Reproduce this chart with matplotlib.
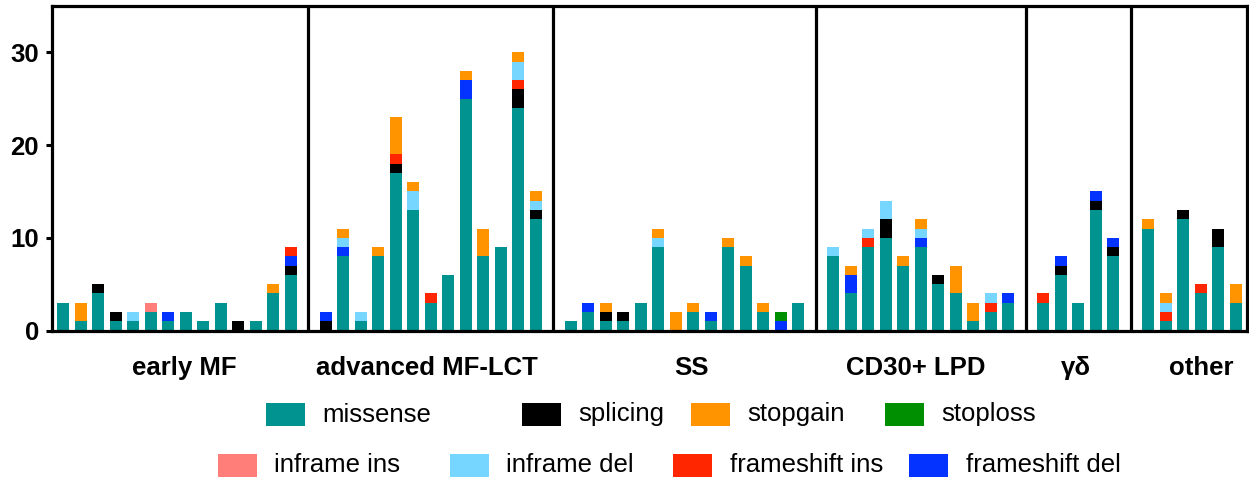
import numpy as np
import matplotlib
matplotlib.use("Agg")
import matplotlib.pyplot as plt
from matplotlib.patches import Rectangle
from matplotlib.transforms import blended_transform_factory

plt.rcParams['font.family'] = ['Liberation Sans', 'DejaVu Sans']

# ==== Data: mutation counts per sample, grouped by subtype ====
groups = ["early MF", "advanced MF-LCT", "SS", "CD30+ LPD", "γδ", "other"]
group_sizes = [14, 13, 14, 11, 5, 6]

missense = [3, 1, 4, 1, 1, 2, 1, 2, 1, 3, 0, 1, 4, 6,
            0, 8, 1, 8, 17, 13, 3, 6, 25, 8, 9, 24, 12,
            1, 2, 1, 1, 3, 9, 0, 2, 1, 9, 7, 2, 0, 3,
            8, 4, 9, 10, 7, 9, 5, 4, 1, 2, 3,
            3, 6, 3, 13, 8,
            11, 1, 12, 4, 9, 3]
splicing = [0, 0, 1, 1, 0, 0, 0, 0, 0, 0, 1, 0, 0, 1,
            1, 0, 0, 0, 1, 0, 0, 0, 0, 0, 0, 2, 1,
            0, 0, 1, 1, 0, 0, 0, 0, 0, 0, 0, 0, 0, 0,
            0, 0, 0, 2, 0, 0, 1, 0, 0, 0, 0,
            0, 1, 0, 1, 1,
            0, 0, 1, 0, 2, 0]
frameshift_del = [0, 0, 0, 0, 0, 0, 1, 0, 0, 0, 0, 0, 0, 1,
                  1, 1, 0, 0, 0, 0, 0, 0, 2, 0, 0, 0, 0,
                  0, 1, 0, 0, 0, 0, 0, 0, 1, 0, 0, 0, 1, 0,
                  0, 2, 0, 0, 0, 1, 0, 0, 0, 0, 1,
                  0, 1, 0, 1, 1,
                  0, 0, 0, 0, 0, 0]
frameshift_ins = [0, 0, 0, 0, 0, 0, 0, 0, 0, 0, 0, 0, 0, 1,
                  0, 0, 0, 0, 1, 0, 1, 0, 0, 0, 0, 1, 0,
                  0, 0, 0, 0, 0, 0, 0, 0, 0, 0, 0, 0, 0, 0,
                  0, 0, 1, 0, 0, 0, 0, 0, 0, 1, 0,
                  1, 0, 0, 0, 0,
                  0, 1, 0, 1, 0, 0]
inframe_ins = [0, 0, 0, 0, 0, 1, 0, 0, 0, 0, 0, 0, 0, 0,
               0, 0, 0, 0, 0, 0, 0, 0, 0, 0, 0, 0, 0,
               0, 0, 0, 0, 0, 0, 0, 0, 0, 0, 0, 0, 0, 0,
               0, 0, 0, 0, 0, 0, 0, 0, 0, 0, 0,
               0, 0, 0, 0, 0,
               0, 0, 0, 0, 0, 0]
inframe_del = [0, 0, 0, 0, 1, 0, 0, 0, 0, 0, 0, 0, 0, 0,
               0, 1, 1, 0, 0, 2, 0, 0, 0, 0, 0, 2, 1,
               0, 0, 0, 0, 0, 1, 0, 0, 0, 0, 0, 0, 0, 0,
               1, 0, 1, 2, 0, 1, 0, 0, 0, 1, 0,
               0, 0, 0, 0, 0,
               0, 1, 0, 0, 0, 0]
stopgain = [0, 2, 0, 0, 0, 0, 0, 0, 0, 0, 0, 0, 1, 0,
            0, 1, 0, 1, 4, 1, 0, 0, 1, 3, 0, 1, 1,
            0, 0, 1, 0, 0, 1, 2, 1, 0, 1, 1, 1, 0, 0,
            0, 1, 0, 0, 1, 1, 0, 3, 2, 0, 0,
            0, 0, 0, 0, 0,
            1, 1, 0, 0, 0, 2]
stoploss = [0, 0, 0, 0, 0, 0, 0, 0, 0, 0, 0, 0, 0, 0,
            0, 0, 0, 0, 0, 0, 0, 0, 0, 0, 0, 0, 0,
            0, 0, 0, 0, 0, 0, 0, 0, 0, 0, 0, 0, 1, 0,
            0, 0, 0, 0, 0, 0, 0, 0, 0, 0, 0,
            0, 0, 0, 0, 0,
            0, 0, 0, 0, 0, 0]

# stacking order (bottom to top) with colours
layers = [
    ("missense", missense, "#009390"),
    ("splicing", splicing, "#000000"),
    ("frameshift del", frameshift_del, "#0433FF"),
    ("frameshift ins", frameshift_ins, "#FF2600"),
    ("inframe ins", inframe_ins, "#FF7E79"),
    ("inframe del", inframe_del, "#76D6FF"),
    ("stopgain", stopgain, "#FF9300"),
    ("stoploss", stoploss, "#008F00"),
]
colors = {name: c for name, _, c in layers}

# x positions: one empty slot between groups
xpos = []
seps = []
centers = []
start = 0
for n in group_sizes:
    xs = list(range(start, start + n))
    xpos.extend(xs)
    centers.append((xs[0] + xs[-1]) / 2)
    seps.append(start + n)
    start += n + 1
seps = seps[:-1]
xpos = np.array(xpos)

# small nudges for the group captions (in bar slots)
label_shift = [0.4, -0.2, 0.4, -0.3, -0.1, 0.55]

W, H = 1249, 480
fig = plt.figure(figsize=(W / 100, H / 100), dpi=100)
ax = fig.add_axes([51.5 / W, 1 - 330.5 / H, (1246.5 - 51.5) / W, (330.5 - 6) / H])

bottom = np.zeros(len(xpos))
for name, vals, c in layers:
    vals = np.array(vals, dtype=float)
    ax.bar(xpos, vals, width=0.67, bottom=bottom, color=c, edgecolor='none')
    bottom += vals

for s in seps:
    ax.axvline(s, color='black', lw=2.3)

ax.set_xlim(-0.67, xpos[-1] + 0.62)
ax.set_ylim(0, 35)
ax.set_xticks([])
ax.set_yticks([0, 10, 20, 30])
ax.tick_params(axis='y', length=4, width=2.2, pad=5, labelsize=18.5)
for lbl in ax.get_yticklabels():
    lbl.set_fontweight('bold')
for sp in ax.spines.values():
    sp.set_linewidth(2.3)

# group labels under the axis
trans = blended_transform_factory(ax.transData, fig.transFigure)
for g, cx, dx in zip(groups, centers, label_shift):
    ax.text(cx + dx, 1 - 368 / H, g, transform=trans, ha='center', va='center',
            fontsize=18.5, fontweight='bold', clip_on=False)

# legend, two rows
legend_rows = [
    (["missense", "splicing", "stopgain", "stoploss"], [266, 522, 691, 885], 414.5),
    (["inframe ins", "inframe del", "frameshift ins", "frameshift del"], [218, 450, 673, 909], 465.5),
]
pw, ph = 39, 23
for names, px, yc in legend_rows:
    for name, x0 in zip(names, px):
        fig.patches.append(Rectangle((x0 / W, 1 - (yc + ph / 2) / H), pw / W, ph / H,
                                     transform=fig.transFigure, facecolor=colors[name],
                                     edgecolor='none'))
        fig.text((x0 + pw + 17.5) / W, 1 - yc / H, name, ha='left', va='center',
                 fontsize=18.5)

fig.savefig("out.png", dpi=100)
